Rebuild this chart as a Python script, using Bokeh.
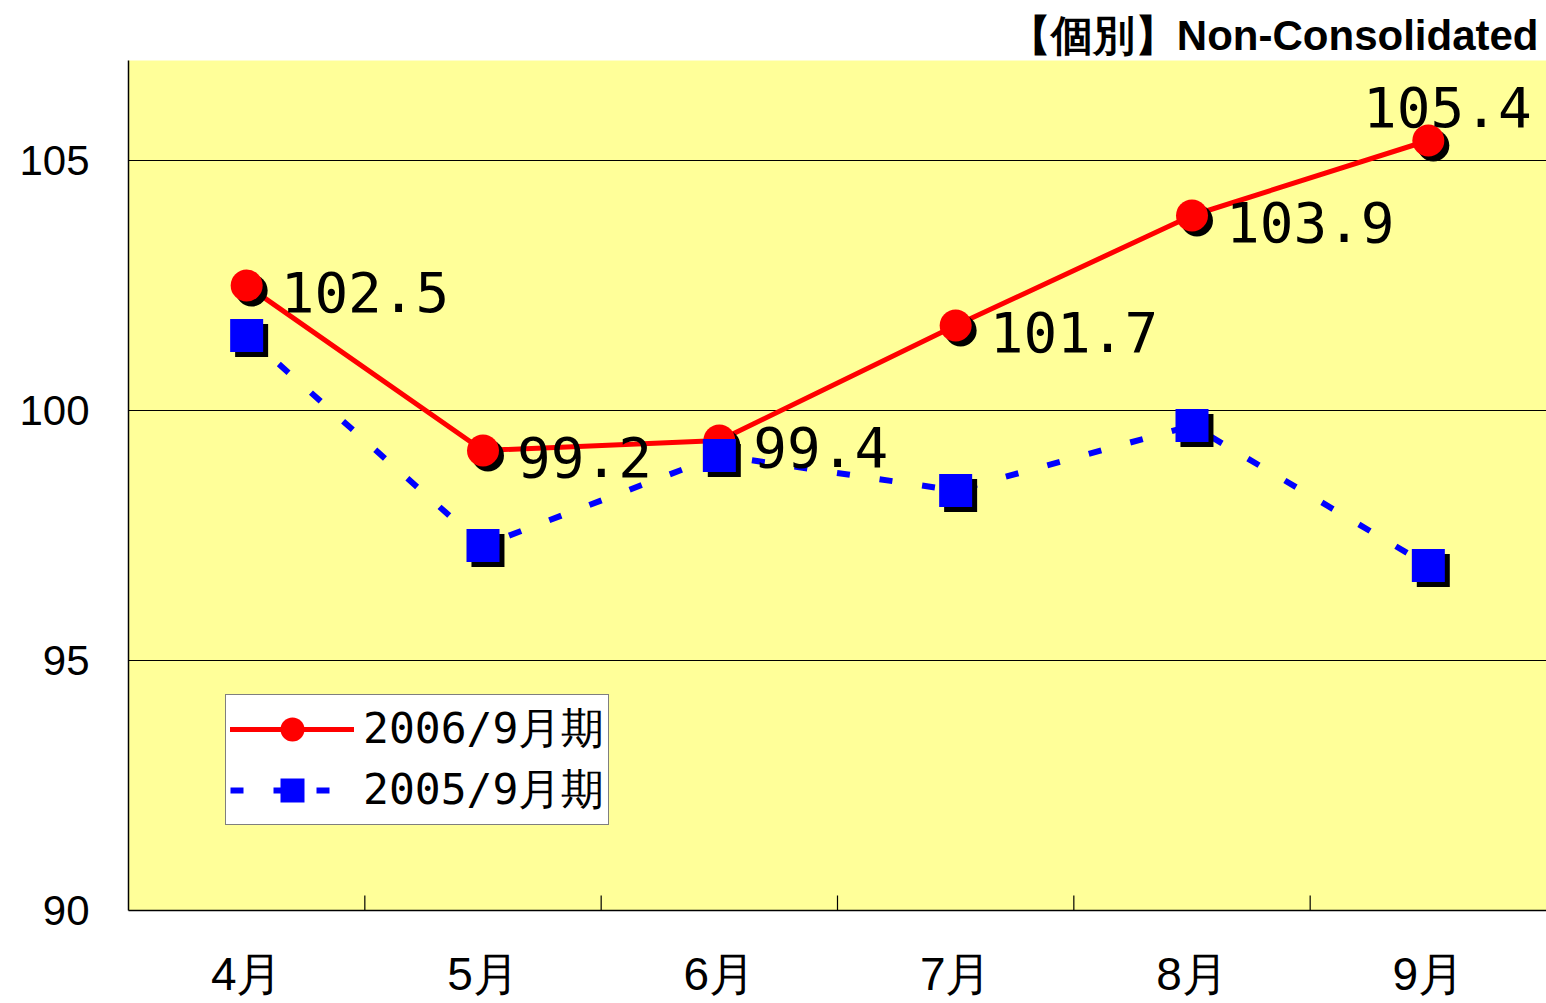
from bokeh.plotting import figure
from bokeh.models import (ColumnDataSource, FactorRange, Range1d,
                          FixedTicker, Legend, LegendItem, CDSView, IndexFilter, Title)
from bokeh.transform import dodge
from bokeh.core.properties import value
from bokeh.embed import file_html
from bokeh.resources import INLINE

# ---- data ----
months = ["4月", "5月", "6月", "7月", "8月", "9月"]
fy2006 = [102.5, 99.2, 99.4, 101.7, 103.9, 105.4]
fy2005 = [101.5, 97.3, 99.1, 98.4, 99.7, 96.9]
labels_2006 = [f"{v:.1f}" for v in fy2006]
y_ticks = [90, 95, 100, 105]
series_names = ["2006/9月期", "2005/9月期"]
title_text = "【個別】Non-Consolidated"

Y0, Y1 = 90, 107
src = ColumnDataSource(dict(m=months, a=fy2006, b=fy2005, lab=labels_2006))

W, H = 1546, 1002
p = figure(width=W, height=H, x_range=FactorRange(*months), y_range=Range1d(Y0, Y1),
           output_backend="svg", toolbar_location=None,
           min_border_left=128, min_border_right=0, min_border_top=60, min_border_bottom=90)

p.title = Title(text=title_text, align="right", text_font_size="42px",
                text_font="Liberation Sans", text_font_style="bold", standoff=4,
                offset=8, text_color="black")

p.background_fill_color = "#FFFF99"
p.border_fill_color = "white"
p.outline_line_color = None

# y axis
p.yaxis.ticker = FixedTicker(ticks=y_ticks)
p.yaxis.major_label_text_font = "Liberation Sans"
p.yaxis.major_label_text_font_size = "42px"
p.yaxis.major_label_text_color = "black"
p.yaxis.major_tick_line_color = None
p.yaxis.minor_tick_line_color = None
p.yaxis.axis_line_color = "black"
p.yaxis.axis_line_width = 1.5
p.yaxis.major_label_standoff = 33

p.ygrid.ticker = FixedTicker(ticks=[95, 100, 105, Y1])
p.ygrid.grid_line_color = "black"
p.ygrid.grid_line_width = 1.2
p.xgrid.visible = False

# x axis
p.xaxis.major_tick_line_color = None
p.xaxis.axis_line_color = "black"
p.xaxis.axis_line_width = 1.5
p.xaxis.major_label_text_font = "Liberation Sans"
p.xaxis.major_label_text_font_size = "46px"
p.xaxis.major_label_text_color = "black"
p.xaxis.major_label_standoff = 31

# category boundary tick marks (inside)
tick_src = ColumnDataSource(dict(m=months[:-1]))
p.segment(x0=dodge("m", 0.5, range=p.x_range), x1=dodge("m", 0.5, range=p.x_range),
          y0=Y0, y1=Y0 + 0.3, source=tick_src, line_color="black", line_width=1.2)

# lines
line_a = p.line("m", "a", source=src, line_color="#FF0000", line_width=5, line_cap="round")
line_b = p.line("m", "b", source=src, line_color="#0000FF", line_width=6, line_dash="13 30",
                line_cap="butt")

# shadows
p.scatter(x=dodge("m", 0.021, range=p.x_range), y=dodge("a", -0.1), source=src,
          marker="circle", size=32, fill_color="black", line_color=None)
p.scatter(x=dodge("m", 0.021, range=p.x_range), y=dodge("b", -0.1), source=src,
          marker="square", size=33, fill_color="black", line_color=None)

circ_a = p.scatter("m", "a", source=src, marker="circle", size=32,
                   fill_color="#FF0000", line_color=None)
sq_b = p.scatter("m", "b", source=src, marker="square", size=33,
                 fill_color="#0000FF", line_color=None)

# data labels
n = len(months)
p.text("m", "a", text="lab", source=src, view=CDSView(filter=IndexFilter(list(range(n - 1)))),
       x_offset=34, y_offset=6, text_align="left", text_baseline="middle",
       text_font=value("DejaVu Sans Mono"), text_font_size="56px", text_color="black")
p.text("m", "a", text="lab", source=src, view=CDSView(filter=IndexFilter([n - 1])),
       x_offset=19, y_offset=-34, text_align="center", text_baseline="alphabetic",
       text_font=value("DejaVu Sans Mono"), text_font_size="56px", text_color="black")

legend = Legend(items=[LegendItem(label=series_names[0], renderers=[line_a, circ_a]),
                       LegendItem(label=series_names[1], renderers=[line_b, sq_b])],
                location=(97, 85), glyph_width=124, glyph_height=60, spacing=1,
                padding=4, margin=0, label_standoff=9,
                label_text_font="DejaVu Sans Mono", label_text_font_size="43px",
                label_text_color="black",
                border_line_color="black", border_line_width=1.8,
                background_fill_color="white", background_fill_alpha=1.0)
p.add_layout(legend, "center")

open("out.html", "w").write(file_html(p, INLINE))
